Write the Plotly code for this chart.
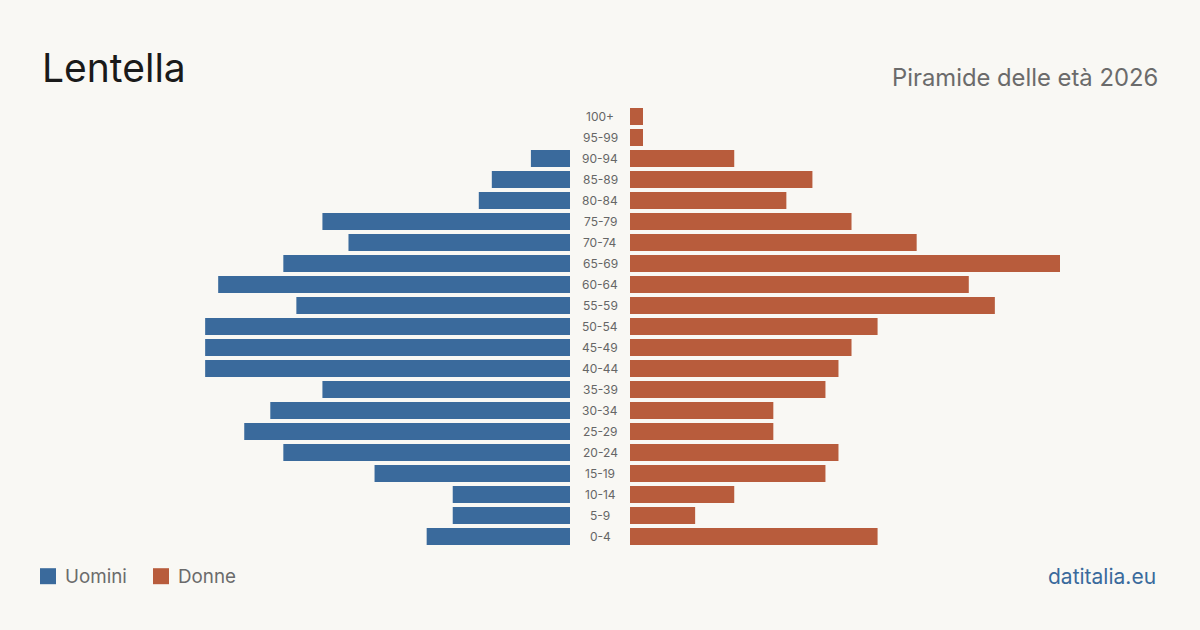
import plotly.graph_objects as go

age_groups = ["0-4", "5-9", "10-14", "15-19", "20-24", "25-29", "30-34", "35-39",
              "40-44", "45-49", "50-54", "55-59", "60-64", "65-69", "70-74",
              "75-79", "80-84", "85-89", "90-94", "95-99", "100+"]
men = [11, 9, 9, 15, 22, 25, 23, 19, 28, 28, 28, 21, 27, 22, 17, 19, 7, 6, 3, 0, 0]
women = [19, 5, 8, 15, 16, 11, 11, 15, 16, 17, 19, 28, 26, 33, 22, 17, 12, 14, 8, 1, 1]

title = "Lentella"
subtitle = "Piramide delle età 2026"
source = "datitalia.eu"
men_label = "Uomini"
women_label = "Donne"

BLUE = "#3a6a9c"
RED = "#b85c3c"
BG = "#f9f8f4"
FONT = "Inter, Noto Sans, sans-serif"
xmax = 33

W, H = 1200, 630
fig = go.Figure()
fig.add_trace(go.Bar(y=age_groups, x=men, orientation="h", marker_color=BLUE,
                     marker_line_width=0,
                     xaxis="x", yaxis="y", showlegend=False, hoverinfo="x+y"))
fig.add_trace(go.Bar(y=age_groups, x=women, orientation="h", marker_color=RED,
                     marker_line_width=0,
                     xaxis="x2", yaxis="y", showlegend=False, hoverinfo="x+y"))

for lab in age_groups:
    fig.add_annotation(x=0.5, xref="paper", y=lab, yref="y", text=lab,
                       showarrow=False, font=dict(family=FONT, size=12, color="#666666"),
                       xanchor="center", yanchor="middle")

t, b = 105.8, 83.2
fig.update_layout(
    width=W, height=H,
    paper_bgcolor=BG, plot_bgcolor=BG,
    margin=dict(l=0, r=0, t=t, b=b),
    bargap=0.19,
    xaxis=dict(domain=[140 / W, 570 / W], range=[xmax, 0], visible=False, fixedrange=True),
    xaxis2=dict(domain=[630 / W, 1060 / W], range=[0, xmax], visible=False, fixedrange=True),
    yaxis=dict(categoryorder="array", categoryarray=age_groups, range=[-0.5, 20.5],
               visible=False, fixedrange=True),
    showlegend=False,
)

def px_y(py):
    return (H - b - py) / (H - t - b)

def px_x(pxx):
    return pxx / W

fig.add_annotation(x=px_x(40), y=px_y(67), xref="paper", yref="paper", text=title,
                   showarrow=False, xanchor="left", yanchor="middle",
                   font=dict(family=FONT, size=39, color="#1a1a1a"))
fig.add_annotation(x=px_x(1160), y=px_y(77), xref="paper", yref="paper", text=subtitle,
                   showarrow=False, xanchor="right", yanchor="middle",
                   font=dict(family=FONT, size=23.8, color="#6b6b6b"))
fig.add_annotation(x=px_x(1158), y=px_y(576), xref="paper", yref="paper", text=source,
                   showarrow=False, xanchor="right", yanchor="middle",
                   font=dict(family=FONT, size=21, color=BLUE))

# legend
fig.add_shape(type="rect", xref="paper", yref="paper",
              x0=px_x(40), x1=px_x(56), y0=px_y(568), y1=px_y(584),
              fillcolor=BLUE, line_width=0)
fig.add_annotation(x=px_x(63), y=px_y(576), xref="paper", yref="paper", text=men_label,
                   showarrow=False, xanchor="left", yanchor="middle",
                   font=dict(family=FONT, size=18.8, color="#6b6b6b"))
fig.add_shape(type="rect", xref="paper", yref="paper",
              x0=px_x(153), x1=px_x(169), y0=px_y(568), y1=px_y(584),
              fillcolor=RED, line_width=0)
fig.add_annotation(x=px_x(176), y=px_y(576), xref="paper", yref="paper", text=women_label,
                   showarrow=False, xanchor="left", yanchor="middle",
                   font=dict(family=FONT, size=18.8, color="#6b6b6b"))

fig.write_html("out.html", config={"displayModeBar": False})
